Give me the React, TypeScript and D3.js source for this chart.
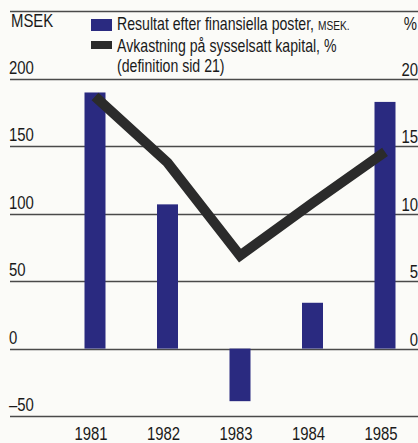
import React from "react";
import * as d3 from "d3";

const years = ["1981", "1982", "1983", "1984", "1985"];
const resultatMSEK = [190, 107, -39, 34, 183];
const avkastningPct = [18.7, 13.8, 6.9, 10.8, 14.6];
const leftTicks = [200, 150, 100, 50, 0, -50];
const rightTicks = [20, 15, 10, 5, 0];
const leftTickLabels = ["200", "150", "100", "50", "0", "–50"];

const W = 418;
const H = 443;
const FONT = "'Liberation Sans', Arial, sans-serif";
const SX = 0.785;
const BAR = "#2a2a80";
const LINE = "#2b2b2b";
const GRID = "#4a4a4a";
const INK = "#1a1a1a";

function T(props: { x: number; y: number; size: number; anchor?: string; children: React.ReactNode }) {
  const { x, y, size, anchor, children } = props;
  return (
    <text
      transform={`translate(${x},${y}) scale(${SX},1)`}
      textAnchor={anchor || "start"}
      fontFamily={FONT}
      fontSize={size}
      fill={INK}
    >
      {children}
    </text>
  );
}

export default function App() {
  const y = d3.scaleLinear().domain([-50, 200]).range([416, 79]);
  const yPct = d3.scaleLinear().domain([-5, 20]).range([416, 79]);
  const x = d3.scalePoint<string>().domain(years).range([95, 385]);
  const barW = 21;
  const line = d3
    .line<number>()
    .x((_, i) => x(years[i]) as number)
    .y((d) => yPct(d));

  return (
    <div style={{ position: "fixed", left: 0, top: 0, width: W, height: H, overflow: "hidden" }}>
      <style>{`html,body{margin:0;padding:0;overflow:hidden;}`}</style>
      <svg width={W} height={H} style={{ display: "block", background: "#fbfbf8" }}>
        {/* top rule */}
        <line x1={10} x2={W} y1={11.5} y2={11.5} stroke={GRID} strokeWidth={1.3} />
        {/* gridlines */}
        {leftTicks.map((t) => (
          <line key={t} x1={10} x2={W} y1={Math.round(y(t)) + 0.5} y2={Math.round(y(t)) + 0.5} stroke={GRID} strokeWidth={1.3} />
        ))}
        {/* left labels */}
        <T x={11} y={27} size={19}>MSEK</T>
        {leftTicks.map((t, i) => (
          <T key={t} x={9} y={y(t) - 5} size={19}>
            {leftTickLabels[i]}
          </T>
        ))}
        {/* right labels */}
        <T x={417} y={30} size={19} anchor="end">%</T>
        {rightTicks.map((t) => (
          <T key={t} x={418} y={yPct(t) - 3} size={19} anchor="end">
            {t}
          </T>
        ))}
        {/* bars */}
        {resultatMSEK.map((v, i) => (
          <rect
            key={years[i]}
            x={(x(years[i]) as number) - barW / 2}
            y={y(Math.max(0, v))}
            width={barW}
            height={Math.abs(y(v) - y(0))}
            fill={BAR}
          />
        ))}
        {/* line */}
        <path d={line(avkastningPct) || ""} fill="none" stroke={LINE} strokeWidth={10} strokeLinejoin="miter" strokeLinecap="butt" />
        {/* year labels */}
        {years.map((yr) => (
          <T key={yr} x={(x(yr) as number) - 4} y={440} size={19} anchor="middle">
            {yr}
          </T>
        ))}
        {/* legend */}
        <rect x={91} y={19} width={21} height={12} fill={BAR} />
        <T x={117} y={30} size={18}>
          Resultat efter finansiella poster, <tspan fontSize={13}>MSEK.</tspan>
        </T>
        <rect x={91} y={41} width={21} height={8} fill={LINE} />
        <T x={117} y={52} size={18}>Avkastning på sysselsatt kapital, %</T>
        <T x={117} y={72} size={18}>(definition sid 21)</T>
      </svg>
    </div>
  );
}
